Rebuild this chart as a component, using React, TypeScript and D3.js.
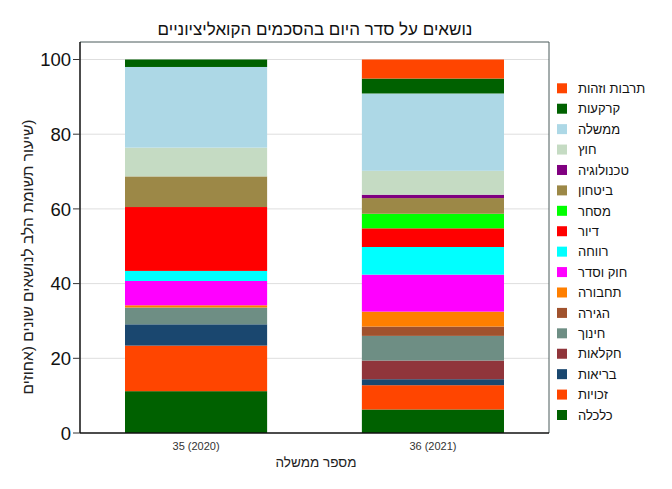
import React, { useEffect } from "react";
import * as d3 from "d3";

const categories = ["35 (2020)", "36 (2021)"];
const topics = [
  "כלכלה", "זכויות", "בריאות", "חקלאות", "חינוך", "הגירה", "תחבורה", "חוק וסדר",
  "רווחה", "דיור", "מסחר", "ביטחון", "טכנולוגיה", "חוץ", "ממשלה", "קרקעות", "תרבות וזהות",
];
const gov35 = [11.2, 12.2, 5.7, 0, 4.5, 0, 0.6, 6.5, 2.7, 17.1, 0, 8.2, 0, 7.7, 21.6, 2.0, 0];
const gov36 = [6.3, 6.5, 1.6, 5.0, 6.6, 2.5, 4.0, 9.9, 7.4, 5.0, 3.9, 4.2, 0.9, 6.4, 20.7, 4.0, 5.1];
const colors = [
  "#006100", "#ff4500", "#1a476f", "#90353b", "#6e8e84", "#a0522d", "#ff7f00", "#ff00ff",
  "#00ffff", "#ff0000", "#00ff00", "#9c8847", "#800080", "#c5dbc3", "#add8e6", "#006100", "#ff4500",
];
const yTicks = [0, 20, 40, 60, 80, 100];

const title = "נושאים על סדר היום בהסכמים הקואליציוניים";
const xTitle = "מספר ממשלה";
const yTitle = "(שיעור תשומת הלב לנושאים שונים (אחוזים";

const W = 672;
const H = 489;
const left = 80, right = 549, top = 42, bottom = 433;
const font = "'Liberation Sans', Arial, sans-serif";

export default function App() {
  useEffect(() => {
    document.body.style.margin = "0";
  }, []);

  const x = d3.scaleBand<string>().domain(categories).range([left, right]).paddingInner(0.4).paddingOuter(0.19);
  const y = d3.scaleLinear().domain([0, 100]).range([bottom, 59.5]);

  const rows = categories.map((c, i) => {
    const obj: Record<string, number | string> = { cat: c };
    const vals = i === 0 ? gov35 : gov36;
    topics.forEach((t, j) => (obj[t] = vals[j]));
    return obj;
  });
  const stack = d3.stack<any>().keys(topics)(rows);
  const color = d3.scaleOrdinal<string, string>().domain(topics).range(colors);

  const legendTopics = [...topics].reverse();
  const legendY = d3.scalePoint<string>().domain(legendTopics).range([88.3, 415]);

  return (
    <svg width={W} height={H} style={{ position: "absolute", left: 0, top: 0, display: "block" }} fontFamily={font}>
      <rect x={0} y={0} width={W} height={H} fill="#fff" />
      <text x={315} y={35} textAnchor="middle" fontSize={17} fill="#111">{title}</text>
      {yTicks.filter((t) => t > 0).map((t) => (
        <line key={"g" + t} x1={left} x2={right} y1={y(t)} y2={y(t)} stroke="#dedede" strokeWidth={1} />
      ))}
      {stack.map((layer) => (
        <g key={layer.key} fill={color(layer.key)}>
          {layer.map((d, i) => (
            d[1] - d[0] > 0 ? (
              <rect key={i} x={x(categories[i])} width={x.bandwidth()} y={y(d[1])} height={y(d[0]) - y(d[1])} />
            ) : null
          ))}
        </g>
      ))}
      <line x1={left} x2={right} y1={top} y2={top} stroke="#4a5a5a" strokeWidth={1} />
      <line x1={right} x2={right} y1={top} y2={bottom} stroke="#4a5a5a" strokeWidth={1} />
      <line x1={left} x2={left} y1={top} y2={bottom} stroke="#111" strokeWidth={1.5} />
      <line x1={left} x2={right} y1={bottom} y2={bottom} stroke="#111" strokeWidth={1.5} />
      {yTicks.map((t) => (
        <g key={"t" + t}>
          <line x1={left - 7} x2={left} y1={y(t)} y2={y(t)} stroke="#333" strokeWidth={1} />
          <text x={71} y={y(t)} dy="0.36em" textAnchor="end" fontSize={18.5} fill="#111">{t}</text>
        </g>
      ))}
      {categories.map((c) => (
        <text key={c} x={(x(c) as number) + x.bandwidth() / 2} y={450} textAnchor="middle" fontSize={11} fill="#333">{c}</text>
      ))}
      <text x={316} y={467} textAnchor="middle" fontSize={13.5} fill="#222">{xTitle}</text>
      <text transform={`translate(33,257) rotate(-90)`} textAnchor="middle" fontSize={15.5} fill="#222" direction="rtl">{yTitle}</text>
      {legendTopics.map((t) => (
        <g key={"l" + t} transform={`translate(0,${legendY(t)})`}>
          <rect x={557} y={-5} width={10} height={10} fill={color(t)} />
          <text x={578} y={0} dy="0.36em" textAnchor="start" fontSize={13} fill="#111">{t}</text>
        </g>
      ))}
    </svg>
  );
}
